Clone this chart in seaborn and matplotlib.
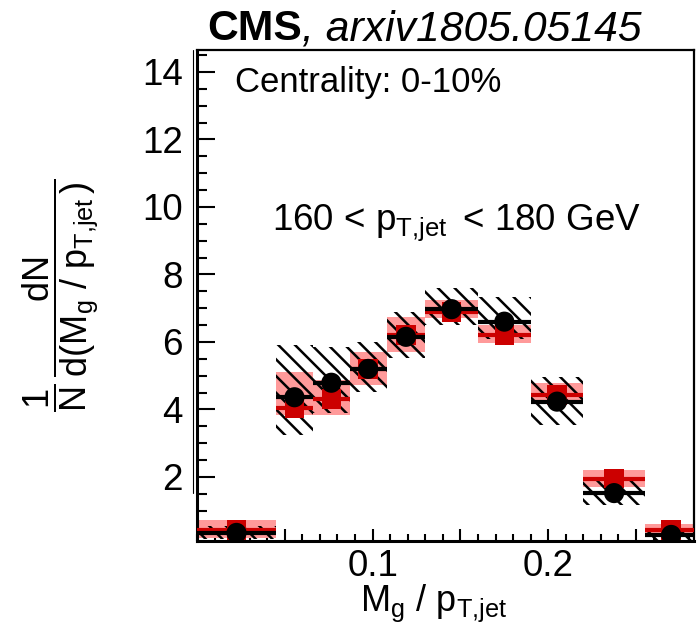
"""
CMS groomed jet mass, Mg / pT,jet, 160 < pT,jet < 180 GeV, centrality 0-10%.
Black points with hatched systematics, red squares with pink band.
"""
import numpy as np
import pandas as pd
import matplotlib
matplotlib.use("Agg")
import matplotlib.pyplot as plt
import matplotlib.ticker as mticker
from matplotlib.lines import Line2D
import seaborn as sns

# ---------------------------------------------------------------------
# Data
# ---------------------------------------------------------------------
bin_lo = [0.000, 0.045, 0.066, 0.087, 0.108, 0.130, 0.160, 0.190, 0.220, 0.255]
bin_hi = [0.045, 0.066, 0.087, 0.108, 0.130, 0.160, 0.190, 0.220, 0.255, 0.285]

# black circles + hatched band
data_val = [0.34, 4.36, 4.79, 5.20, 6.15, 6.97, 6.60, 4.23, 1.52, 0.28]
data_sys_lo = [0.15, 3.24, 3.90, 4.53, 5.52, 6.50, 6.10, 3.54, 1.17, 0.10]
data_sys_hi = [0.55, 5.91, 5.86, 6.01, 6.90, 7.60, 7.34, 4.97, 1.91, 0.40]

# red squares + pink band
red_val = [0.42, 4.05, 4.30, 5.20, 6.20, 6.88, 6.20, 4.42, 1.95, 0.42]
red_sys_lo = [0.20, 3.84, 3.84, 4.73, 5.71, 6.71, 5.97, 4.19, 1.71, 0.25]
red_sys_hi = [0.73, 5.12, 4.87, 5.71, 6.75, 7.24, 6.50, 4.78, 2.19, 0.60]

x_ticks = [0.05, 0.10, 0.15, 0.20, 0.25]
x_ticklabels = ["", "0.1", "", "0.2", ""]

# ---------------------------------------------------------------------
# Style
# ---------------------------------------------------------------------
sns.set_theme(style="ticks")
plt.rcParams.update({
    "font.family": ["Liberation Sans", "DejaVu Sans"],
    "mathtext.fontset": "custom",
    "mathtext.rm": "Liberation Sans",
    "mathtext.it": "Liberation Sans:italic",
    "mathtext.bf": "Liberation Sans:bold",
    "mathtext.default": "regular",
    "hatch.linewidth": 1.8,
    "hatch.color": "black",
    "text.color": "black",
    "axes.labelcolor": "black",
    "axes.edgecolor": "black",
    "xtick.color": "black",
    "ytick.color": "black",
    "xtick.labelcolor": "black",
    "ytick.labelcolor": "black",
})

df = pd.DataFrame({
    "lo": bin_lo, "hi": bin_hi,
    "data": data_val, "data_lo": data_sys_lo, "data_hi": data_sys_hi,
    "red": red_val, "red_lo": red_sys_lo, "red_hi": red_sys_hi,
})
df["center"] = (df["lo"] + df["hi"]) / 2
df["width"] = df["hi"] - df["lo"]

fig = plt.figure(figsize=(7.0, 6.36), dpi=100)
ax = fig.add_axes([197 / 700, 1 - 541 / 636, 497 / 700, 491 / 636])

# pink systematic boxes
ax.bar(df["center"], df["red_hi"] - df["red_lo"], bottom=df["red_lo"],
       width=df["width"], color="#ff9a9a", linewidth=0, zorder=1)
# hatched systematic boxes
ax.bar(df["center"], df["data_hi"] - df["data_lo"], bottom=df["data_lo"],
       width=df["width"], facecolor="none", edgecolor="black",
       hatch="\\\\", linewidth=0, zorder=2)

# red squares
ax.hlines(df["red"], df["lo"], df["hi"], color="#cc0000", linewidth=3, zorder=3)
sns.scatterplot(data=df, x="center", y="red", marker="s", s=200,
                color="#cc0000", edgecolor="none", ax=ax, zorder=3)

# black circles
ax.hlines(df["data"], df["lo"], df["hi"], color="black", linewidth=3, zorder=4)
sns.scatterplot(data=df, x="center", y="data", marker="o", s=210,
                color="black", edgecolor="none", ax=ax, zorder=4)

ax.set_xlim(0.0, 0.283)
ax.set_ylim(0.1, 14.65)

ax.xaxis.set_major_locator(mticker.FixedLocator(x_ticks))
ax.xaxis.set_major_formatter(mticker.FixedFormatter(x_ticklabels))
ax.xaxis.set_minor_locator(mticker.MultipleLocator(0.01))
ax.yaxis.set_major_locator(mticker.MultipleLocator(2))
ax.yaxis.set_minor_locator(mticker.MultipleLocator(0.5))

ax.tick_params(axis="x", which="major", direction="in", length=9, width=1.5,
               labelsize=26.5, pad=6, top=False)
ax.tick_params(axis="x", which="minor", direction="in", length=5, width=1.5,
               top=False)
ax.tick_params(axis="y", which="major", direction="in", length=13, width=1.5,
               labelsize=26.5, pad=10, right=False)
ax.tick_params(axis="y", which="minor", direction="in", length=7, width=1.5,
               right=False)

for side in ("left", "bottom"):
    ax.spines[side].set_linewidth(2.2)
for side in ("top", "right"):
    ax.spines[side].set_linewidth(1.6)

ax.set_xlabel("$M_g$ / $p_{T{,}jet}$", fontsize=26)
ax.xaxis.set_label_coords(0.475, -0.085)
ax.set_ylabel(r"$\dfrac{1}{N}\,\dfrac{dN}{d(M_g\ /\ p_{T{,}jet}\,)}$", fontsize=26)
ax.yaxis.set_label_coords(-0.195, 0.5)

ax.text(0.0765, 0.914, "Centrality: 0-10%", transform=ax.transAxes,
        fontsize=25, va="baseline", ha="left")
ax.text(0.151, 0.633, r"160 < $p_{T{,}jet}\/$ < 180 GeV", transform=ax.transAxes,
        fontsize=26.5, va="baseline", ha="left")

# title: bold CMS + italic reference
t1 = fig.text(207 / 700, 1 - 40 / 636, "CMS", fontsize=30.7, fontweight="bold",
              va="baseline", ha="left")
fig.canvas.draw()
bb = t1.get_window_extent(renderer=fig.canvas.get_renderer())
fig.text(bb.x1 / fig.bbox.width, 1 - 40 / 636, ", arxiv1805.05145",
         fontsize=30.7, fontstyle="italic", va="baseline", ha="left")

# thin frame line left of the axis
fig.add_artist(Line2D([193 / 700, 193 / 700], [1 - 50 / 636, 1 - 493 / 636],
                      color="black", linewidth=0.8))

fig.savefig("out.png", dpi=100)
